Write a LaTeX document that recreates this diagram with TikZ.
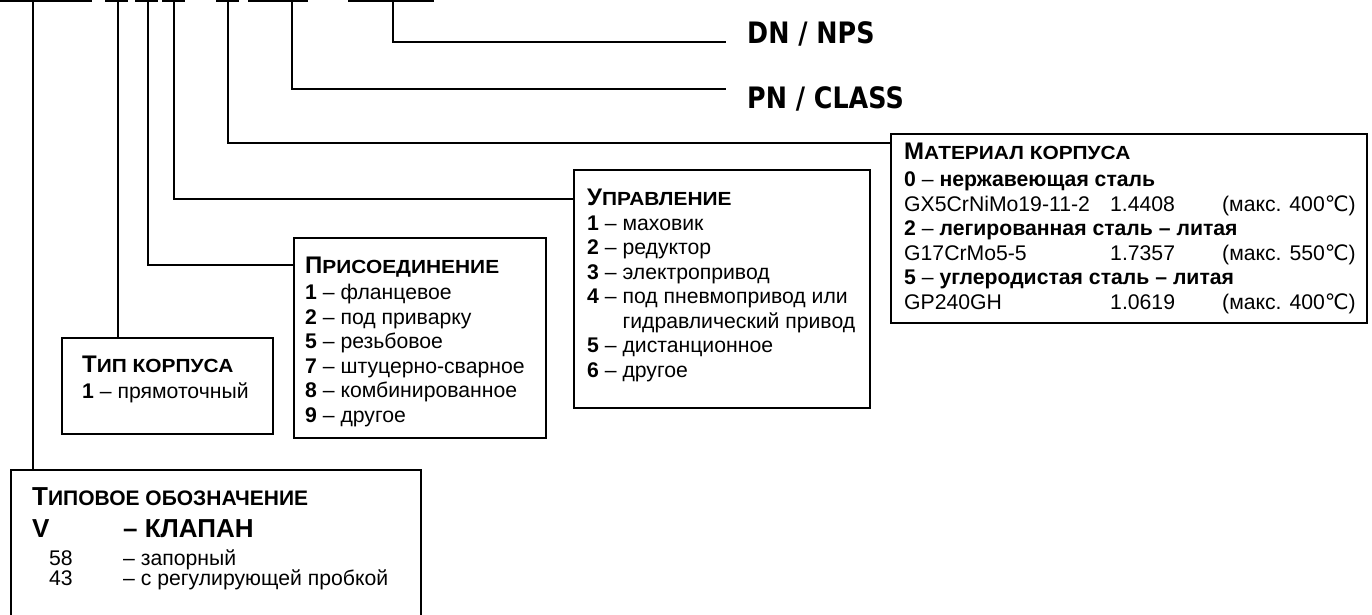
\documentclass[tikz,border=0pt]{standalone}
\usepackage{fontspec}
\usepackage{graphicx}
\setmainfont{Liberation Sans}
\newfontfamily\dvs{DejaVu Sans}
\newcommand{\hdr}[2]{{\fontsize{24}{24}\selectfont\bfseries #1}{\fontsize{19}{19}\selectfont\bfseries\scalebox{1.1}[1]{#2}}}
\newcommand{\cels}{{\dvs ℃}}
\newcommand{\narrowlbl}[1]{\scalebox{0.86}[1]{#1}}
\tikzset{
  ln/.style={line width=1.8pt},
  box/.style={draw, line width=1.8pt, inner sep=0pt, anchor=north west},
  txt/.style={anchor=base west, inner sep=0pt, font=\fontsize{21.2}{24}\selectfont},
  lbl/.style={anchor=base west, inner sep=0pt, font=\dvs\bfseries\fontsize{29.5}{30}\selectfont},
}
\begin{document}
\begin{tikzpicture}[x=1pt,y=-1pt]
\useasboundingbox (0,0) rectangle (1372,615);
\clip (0,0) rectangle (1372,615);
% top marks
\foreach \a/\b in {0/92,105/128,135/158,162/185,216/239,248/308,348/434}
  {\draw[ln] (\a,1) -- (\b,1);}
\coordinate (t1) at (33,1);
\coordinate (t2) at (118,1);
\coordinate (t3) at (148,1);
\coordinate (t4) at (174,1);
\coordinate (t5) at (228,1);
\coordinate (t6) at (292,1);
\coordinate (t7) at (393,1);
% boxes
\node[box, minimum width=410pt, minimum height=200pt] (tip) at (10,469) {};
\node[box, minimum width=211pt, minimum height=96pt] (korp) at (61,337) {};
\node[box, minimum width=252pt, minimum height=200pt] (pris) at (293,237) {};
\node[box, minimum width=296pt, minimum height=238pt] (upr) at (573,169) {};
\node[box, minimum width=476pt, minimum height=189pt] (mat) at (890,133) {};
% labels
\node[lbl] (dn) at (747,43.3) {\narrowlbl{DN / NPS}};
\node[lbl] (pn) at (747,108.3) {\narrowlbl{PN / CLASS}};
\coordinate (dnend) at (726,42);
\coordinate (pnend) at (726,89);
% connectors
\draw[ln] (t1) -- (t1 |- tip.north);
\draw[ln] (t2) -- (t2 |- korp.north);
\draw[ln] (t3) |- (pris.west |- 0,265);
\draw[ln] (t4) |- (upr.west |- 0,199);
\draw[ln] (t5) |- (mat.west |- 0,143);
\draw[ln] (t6) |- (pnend);
\draw[ln] (t7) |- (dnend);
% Тип корпуса
\node[txt] (korp-h) at (82,372) {\hdr{Т}{ИП КОРПУСА}};
\node[txt] (korp-1) at (82,398.5) {\textbf{1} – прямоточный};
% Присоединение
\node[txt] (pris-h) at (305,273) {\hdr{П}{РИСОЕДИНЕНИЕ}};
\foreach \t [count=\i] in {{\textbf{1} – фланцевое},{\textbf{2} – под приварку},{\textbf{5} – резьбовое},{\textbf{7} – штуцерно-сварное},{\textbf{8} – комбинированное},{\textbf{9} – другое}}
  {\node[txt] (pris-\i) at (305,{299.5+24.5*(\i-1)}) {\t};}
% Управление
\node[txt] (upr-h) at (587,205) {\hdr{У}{ПРАВЛЕНИЕ}};
\foreach \t [count=\i] in {{\textbf{1} – маховик},{\textbf{2} – редуктор},{\textbf{3} – электропривод},{\textbf{4} – под пневмопривод или},{\phantom{\textbf{4} – }гидравлический привод},{\textbf{5} – дистанционное},{\textbf{6} – другое}}
  {\node[txt] (upr-\i) at (587,{230+24.5*(\i-1)}) {\t};}
% Материал корпуса
\node[txt] (mat-h) at (904,159.5) {\hdr{М}{АТЕРИАЛ КОРПУСА}};
\node[txt] (mat-1) at (904,186.5) {\textbf{0} – \textbf{нержавеющая сталь}};
\node[txt] (mat-2) at (904,211) {\makebox[206pt][l]{GX5CrNiMo19-11-2}\makebox[112pt][l]{1.4408}(макс. 400\cels)};
\node[txt] (mat-3) at (904,235.5) {\textbf{2} – \textbf{легированная сталь – литая}};
\node[txt] (mat-4) at (904,260) {\makebox[206pt][l]{G17CrMo5-5}\makebox[112pt][l]{1.7357}(макс. 550\cels)};
\node[txt] (mat-5) at (904,284.5) {\textbf{5} – \textbf{углеродистая сталь – литая}};
\node[txt] (mat-6) at (904,309) {\makebox[206pt][l]{GP240GH}\makebox[112pt][l]{1.0619}(макс. 400\cels)};
% Типовое обозначение
\node[txt] (tip-h) at (32,505) {{\fontsize{26}{26}\selectfont\bfseries Т}{\fontsize{21}{21}\selectfont\bfseries ИПОВОЕ ОБОЗНАЧЕНИЕ}};
\node[txt] (tip-v) at (32,537) {\fontsize{26}{26}\selectfont\bfseries\makebox[91pt][l]{V}– КЛАПАН};
\node[txt] (tip-1) at (49,565) {\makebox[74pt][l]{58}– запорный};
\node[txt] (tip-2) at (49,585) {\makebox[74pt][l]{43}– с регулирующей пробкой};
\end{tikzpicture}
\end{document}
